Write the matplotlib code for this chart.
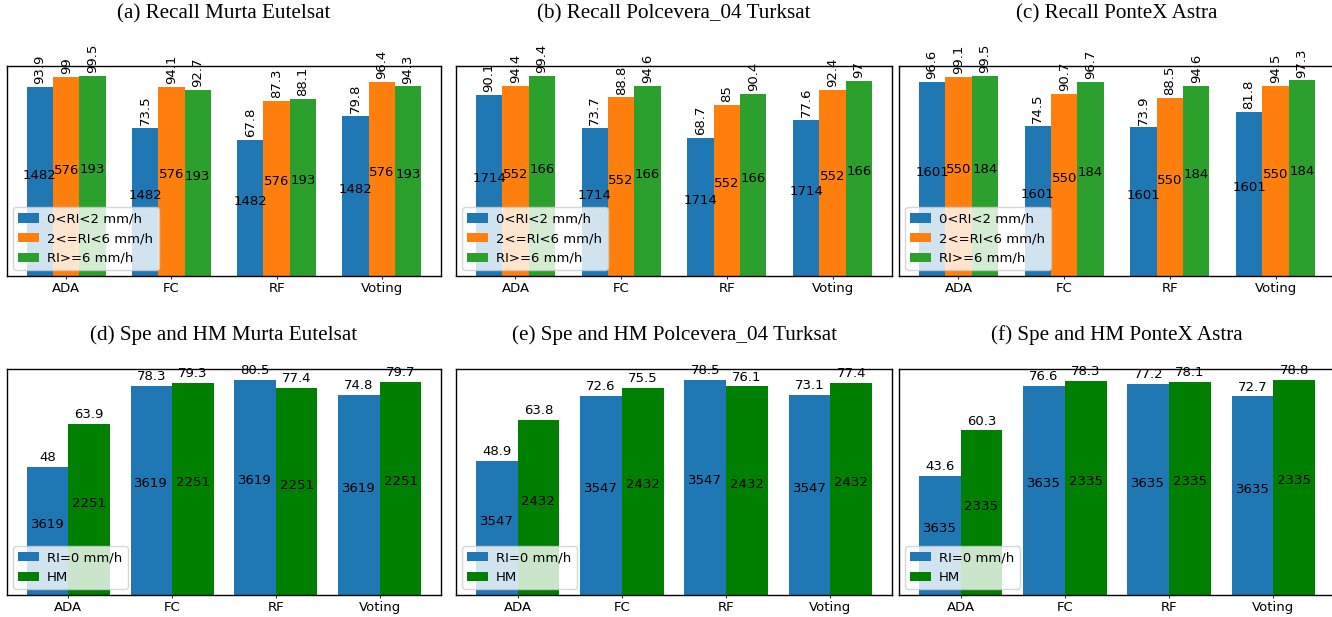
import numpy as np
import matplotlib.pyplot as plt

models = ['ADA', 'FC', 'RF', 'Voting']

# recall per rain-intensity class
rec_titles = ['(a) Recall Murta Eutelsat', '(b) Recall Polcevera_04 Turksat', '(c) Recall PonteX Astra']
rec_low = [[93.9, 73.5, 67.8, 79.8], [90.1, 73.7, 68.7, 77.6], [96.6, 74.5, 73.9, 81.8]]
rec_mid = [[99, 94.1, 87.3, 96.4], [94.4, 88.8, 85, 92.4], [99.1, 90.7, 88.5, 94.5]]
rec_high = [[99.5, 92.7, 88.1, 94.3], [99.4, 94.6, 90.4, 97], [99.5, 96.7, 94.6, 97.3]]
rec_counts = [[1482, 576, 193], [1714, 552, 166], [1601, 550, 184]]
rec_labels = ['0<RI<2 mm/h', '2<=RI<6 mm/h', 'RI>=6 mm/h']

# specificity and harmonic mean
spe_titles = ['(d) Spe and HM Murta Eutelsat', '(e) Spe and HM Polcevera_04 Turksat', '(f) Spe and HM PonteX Astra']
spe = [[48, 78.3, 80.5, 74.8], [48.9, 72.6, 78.5, 73.1], [43.6, 76.6, 77.2, 72.7]]
hm = [[63.9, 79.3, 77.4, 79.7], [63.8, 75.5, 76.1, 77.4], [60.3, 78.3, 78.1, 78.8]]
spe_counts = [[3619, 2251], [3547, 2432], [3635, 2335]]
spe_labels = ['RI=0 mm/h', 'HM']

W, H = 1332, 617
fig = plt.figure(figsize=(W / 100, H / 100), dpi=100)

lefts = [7, 456, 899]
widths = [434, 436, 436]
fs = 9.5


def px_axes(left, top, bottom, width):
    return fig.add_axes([left / W, 1 - bottom / H, width / W, (bottom - top) / H])


def style(ax):
    ax.set_yticks([])
    ax.set_xticks(np.arange(len(models)))
    ax.set_xticklabels(models, fontsize=fs)
    ax.tick_params(axis='x', length=2, width=0.6, pad=2)
    for s in ax.spines.values():
        s.set_linewidth(1.0)
    ax.legend(loc='lower left', fontsize=fs, handlelength=1.6, handletextpad=0.6,
              borderaxespad=0.45)


x = np.arange(len(models))

for i in range(3):
    ax = px_axes(lefts[i], 66, 276, widths[i])
    w = 0.25
    series = [rec_low[i], rec_mid[i], rec_high[i]]
    colors = ['tab:blue', 'tab:orange', '#2ca02c']
    for k in range(3):
        bars = ax.bar(x + (k - 1) * w, series[k], w, color=colors[k], label=rec_labels[k])
        for b, v in zip(bars, series[k]):
            cx = b.get_x() + b.get_width() / 2
            ax.annotate('%g' % v, (cx, v), xytext=(0, 2), textcoords='offset points',
                        ha='center', va='bottom', rotation=90, fontsize=fs,
                        annotation_clip=False)
            ax.text(cx, v / 2, str(rec_counts[i][k]), ha='center', va='bottom', fontsize=fs)
    style(ax)
    fig.text((lefts[i] + widths[i] / 2) / W, 1 - 14 / H, rec_titles[i], ha='center',
             va='center', family='Liberation Serif', fontsize=15.2)

for i in range(3):
    ax = px_axes(lefts[i], 369, 595, widths[i])
    w = 0.4
    series = [spe[i], hm[i]]
    colors = ['tab:blue', 'green']
    for k in range(2):
        bars = ax.bar(x + (k - 0.5) * w, series[k], w, color=colors[k], label=spe_labels[k])
        for b, v in zip(bars, series[k]):
            cx = b.get_x() + b.get_width() / 2
            ax.annotate('%g' % v, (cx, v), xytext=(0, 2), textcoords='offset points',
                        ha='center', va='bottom', annotation_clip=False, fontsize=fs)
            ax.text(cx, v / 2, str(spe_counts[i][k]), ha='center', va='bottom', fontsize=fs)
    style(ax)
    fig.text((lefts[i] + widths[i] / 2) / W, 1 - 335 / H, spe_titles[i], ha='center',
             va='center', family='Liberation Serif', fontsize=15.2)

fig.savefig('out.png', dpi=100)
